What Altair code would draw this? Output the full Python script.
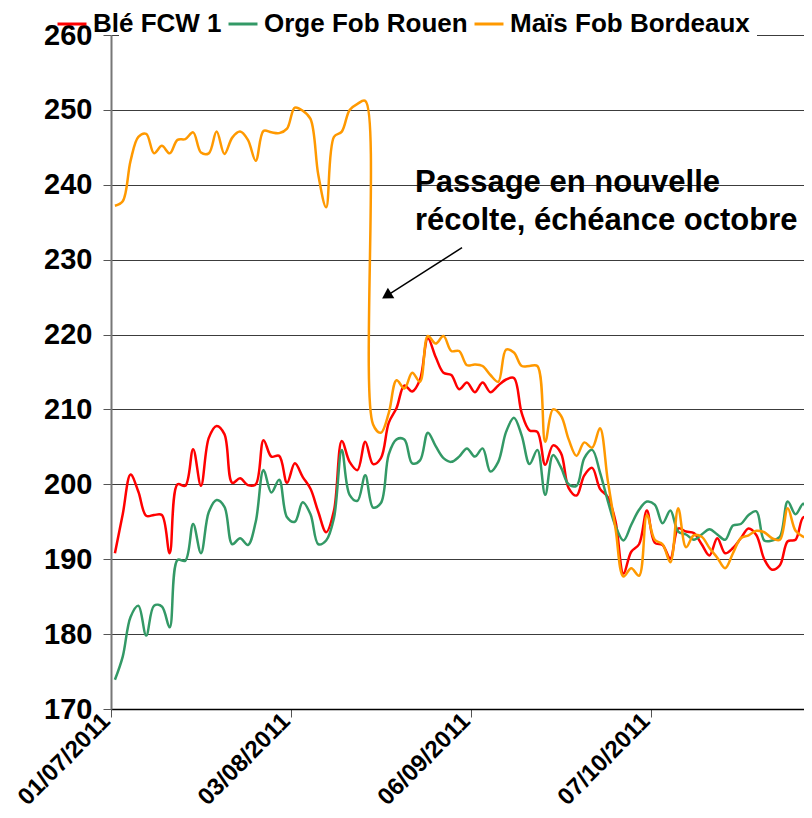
import altair as alt
import pandas as pd

# ---- data -------------------------------------------------------------
tick_labels = ["01/07/2011", "03/08/2011", "06/09/2011", "07/10/2011"]
tick_pos = [0, 23, 46, 69]
series = ["Blé FCW 1", "Orge Fob Rouen", "Maïs Fob Bordeaux"]
colors = ["#FF0000", "#339966", "#FF9900"]

ble = [190.8, 196.0, 201.3, 199.0, 195.8, 195.9, 195.9, 190.8, 200.0, 199.8,
       204.7, 199.8, 206.2, 207.8, 206.7, 200.2, 200.8, 199.9, 200.0, 205.9,
       203.7, 203.8, 200.2, 202.8, 201.0, 199.4, 196.3, 193.6, 196.5, 205.8,
       203.0, 201.9, 205.7, 202.7, 203.5, 208.2, 210.2, 213.2, 212.4, 214.0,
       219.5, 217.0, 214.9, 214.6, 212.7, 213.6, 212.3, 213.6, 212.3, 213.2,
       214.0, 214.2, 209.5, 207.2, 207.0, 202.6, 205.2, 204.2, 199.5, 198.5,
       201.2, 202.2, 199.4, 198.3, 195.0, 188.1, 191.0, 192.0, 196.5, 192.2,
       191.9, 190.1, 194.1, 193.7, 193.5, 192.0, 190.5, 192.8, 190.8, 191.5,
       192.8, 194.1, 193.2, 190.0, 188.6, 189.2, 192.4, 192.6, 195.6, 195.4]

orge = [173.9, 177.0, 182.3, 183.8, 179.8, 183.8, 183.7, 180.9, 189.9, 189.8,
        194.7, 190.8, 196.3, 197.9, 197.0, 192.0, 192.8, 191.9, 195.0, 201.9,
        198.9, 200.6, 195.6, 195.0, 197.6, 196.0, 192.0, 192.5, 195.5, 204.6,
        198.6, 197.8, 201.2, 196.9, 197.5, 204.0, 206.0, 206.0, 202.8, 203.2,
        206.9, 205.1, 203.5, 203.0, 203.7, 204.8, 203.7, 204.8, 201.7, 203.0,
        207.0, 208.9, 206.5, 202.7, 204.6, 198.6, 203.9, 202.3, 200.0, 199.8,
        203.5, 204.6, 201.6, 197.8, 194.4, 192.5, 194.6, 196.6, 197.7, 197.3,
        194.8, 196.5, 193.7, 193.3, 192.6, 193.3, 194.0, 193.3, 192.6, 194.5,
        194.7, 195.9, 196.4, 192.5, 192.5, 193.0, 197.7, 196.0, 197.4, 192.5]

mais = [237.2, 237.8, 243.2, 246.4, 246.8, 244.2, 245.2, 244.2, 246.0, 246.1,
        247.0, 244.3, 244.2, 247.1, 244.1, 246.3, 247.1, 246.0, 243.2, 247.2,
        247.0, 246.9, 247.5, 250.3, 249.9, 248.8, 241.3, 237.0, 246.4, 247.1,
        250.0, 250.8, 251.2, 208.0, 206.9, 209.5, 213.9, 212.8, 214.9, 213.7,
        219.8, 218.8, 219.8, 217.8, 217.8, 215.9, 216.0, 215.8, 214.6, 213.7,
        218.0, 217.6, 215.8, 215.8, 215.8, 205.7, 210.0, 209.2, 206.0, 203.8,
        205.6, 204.9, 207.5, 200.5, 194.0, 187.7, 188.8, 187.8, 195.9, 192.6,
        192.0, 189.6, 196.8, 191.6, 193.2, 193.0, 191.5, 190.2, 188.8, 190.8,
        192.8, 193.2, 193.8, 193.6, 192.8, 192.6, 196.8, 193.8, 193.0, 192.6]

annotation = "Passage en nouvelle\nrécolte, échéance octobre"
annot_x = [38.86]
annot_y = [239.0]
arrow_x1, arrow_y1 = [44.87], [231.6]
arrow_x2, arrow_y2 = [35.42], [225.3]

rows = []
for name, vals in zip(series, [ble, orge, mais]):
    for i, v in enumerate(vals):
        rows.append({"pos": i + 0.5, "prix": v, "serie": name})
df = pd.DataFrame(rows)

FONT = "Liberation Sans"
xscale = alt.Scale(domain=[0, 88.58], nice=False, zero=False)
yscale = alt.Scale(domain=[170, 260], nice=False, zero=False)

label_expr = "[" + ",".join("'%s'" % t for t in tick_labels) + "][round(datum.value / 23)]"

x_axis = alt.Axis(values=tick_pos, labelExpr=label_expr, grid=False,
                  domainColor="#000000", domainWidth=1.5, tickColor="#555555",
                  tickSize=8, labelAngle=-45, labelAlign="right",
                  labelBaseline="middle", labelFont=FONT, labelFontSize=24,
                  labelFontWeight="bold", labelColor="#000000", labelPadding=0,
                  labelOffset=-5, labelFlush=False, labelOverlap=False,
                  labelBound=False, title=None)
y_axis = alt.Axis(values=list(range(170, 261, 10)), grid=True,
                  gridColor="#3c3c3c", gridWidth=1, domainColor="#777777",
                  domainWidth=2, tickColor="#555555", tickSize=8,
                  labelFont=FONT, labelFontSize=29, labelFontWeight="bold",
                  labelColor="#000000", labelPadding=11, labelFlush=False,
                  title=None)

lines = alt.Chart(df).mark_line(strokeWidth=2.5, interpolate="catmull-rom",
                                clip=True).encode(
    x=alt.X("pos:Q", scale=xscale, axis=x_axis),
    y=alt.Y("prix:Q", scale=yscale, axis=y_axis),
    color=alt.Color("serie:N", scale=alt.Scale(domain=series, range=colors),
                    sort=series,
                    legend=alt.Legend(orient="none", legendX=-55, legendY=-27,
                                      direction="horizontal", title=None,
                                      symbolType="stroke", symbolSize=840,
                                      symbolStrokeWidth=3, labelFont=FONT,
                                      labelFontSize=26, labelFontWeight="bold",
                                      labelColor="#000000", labelOffset=5,
                                      columnPadding=0, padding=0,
                                      labelLimit=400)),
)

mask = alt.Chart(pd.DataFrame({"a": [0]})).mark_rule(
    color="white", strokeWidth=4).encode(
    x=alt.value(8), x2=alt.value(646), y=alt.value(0))

adf = pd.DataFrame({"x1": arrow_x1, "y1": arrow_y1, "x2": arrow_x2, "y2": arrow_y2})
arrow = alt.Chart(adf).mark_rule(color="black", strokeWidth=1.5).encode(
    x=alt.X("x1:Q", scale=xscale, axis=x_axis),
    y=alt.Y("y1:Q", scale=yscale, axis=y_axis),
    x2="x2:Q", y2="y2:Q")
head = alt.Chart(adf).mark_point(shape="triangle", angle=238, filled=True,
                                 size=150, color="black", opacity=1).encode(
    x=alt.X("x2:Q", scale=xscale, axis=x_axis),
    y=alt.Y("y2:Q", scale=yscale, axis=y_axis))

tdf = pd.DataFrame({"x": annot_x, "y": annot_y, "t": [annotation]})
text = alt.Chart(tdf).mark_text(align="left", baseline="alphabetic",
                                fontSize=31, fontWeight="bold", font=FONT,
                                lineBreak="\n", lineHeight=38,
                                color="black").encode(
    x=alt.X("x:Q", scale=xscale, axis=x_axis),
    y=alt.Y("y:Q", scale=yscale, axis=y_axis),
    text="t:N")

chart = alt.layer(lines, mask, arrow, head, text).properties(
    width=693, height=674,
    padding={"left": 103, "top": 27, "right": 0, "bottom": 100},
    autosize=alt.AutoSizeParams(type="none"),
    background="white",
).configure_view(stroke=None)

chart.save("out.html", embed_options={"renderer": "svg", "actions": False})
